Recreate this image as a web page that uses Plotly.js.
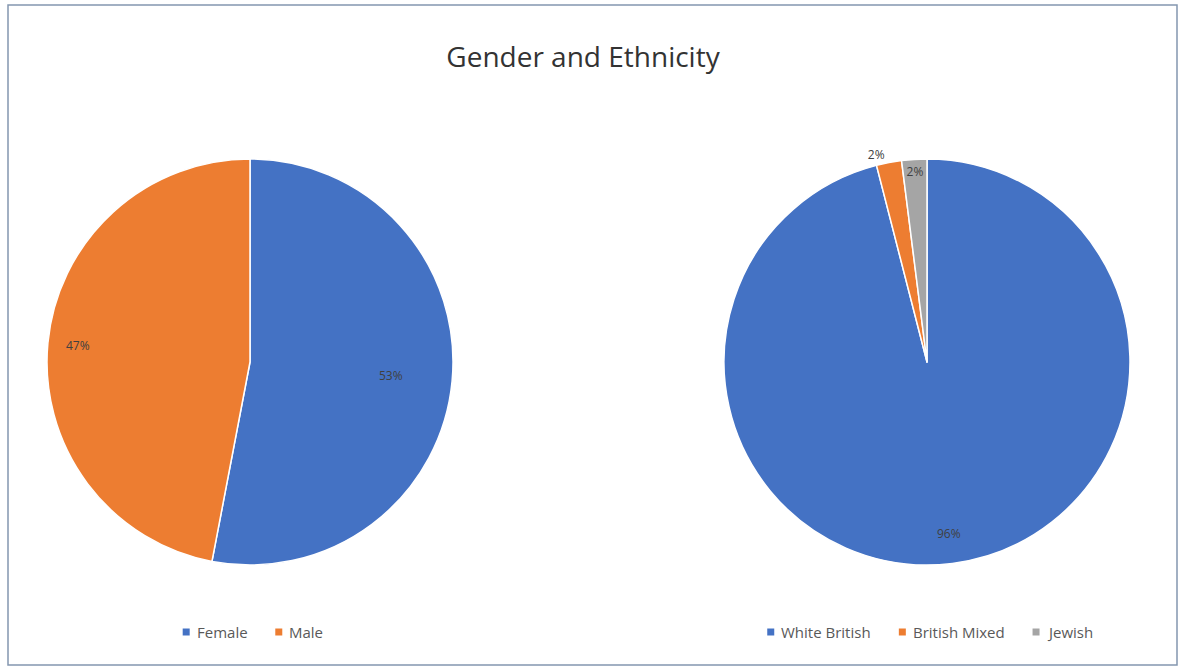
<!DOCTYPE html>
<html>
<head>
<meta charset="utf-8">
<script src="https://cdn.plot.ly/plotly-3.0.1.min.js"></script>
<style>
  html, body { margin: 0; padding: 0; background: #ffffff; }
  #chart { width: 1182px; height: 668px; }
</style>
</head>
<body>
<div id="chart"></div>
<script>
// Gender breakdown (percent)
const genderLabels = ['Female', 'Male'];
const genderValues = [53, 47];
const genderColors = ['#4472C4', '#ED7D31'];

// Ethnicity breakdown (percent)
const ethnicityLabels = ['White British', 'British Mixed', 'Jewish'];
const ethnicityValues = [96, 2, 2];
const ethnicityColors = ['#4472C4', '#ED7D31', '#A5A5A5'];

const W = 1182, H = 668;
const px = v => v / W;
const py = v => 1 - v / H;

const FONT = 'Open Sans, sans-serif';
const labelFont = { family: FONT, size: 12, color: '#404040' };
const legendFont = { family: FONT, size: 15, color: '#595959' };

// Pie geometry (pixels): centre and radius of each pie
const pies = [
  { cx: 250, cy: 362, r: 203 },
  { cx: 927, cy: 362, r: 203 }
];

function domainOf(p) {
  return { x: [px(p.cx - p.r), px(p.cx + p.r)], y: [py(p.cy + p.r), py(p.cy - p.r)] };
}

// Large slices get their labels pushed out toward the rim; small slices
// keep Plotly's own placement.
const genderLabelRadius = [0.70, 0.85];
const ethnicityLabelRadius = [0.85, null, null];

function sliceLabels(values, radii, pie) {
  const total = values.reduce((a, b) => a + b, 0);
  let acc = 0;
  const out = [];
  values.forEach((v, i) => {
    const mid = (acc + v / 2) / total * 2 * Math.PI; // clockwise from 12 o'clock
    acc += v;
    if (radii[i] == null) return;
    const rr = radii[i] * pie.r;
    const x = pie.cx + rr * Math.sin(mid);
    const y = pie.cy - rr * Math.cos(mid);
    out.push({
      text: v + '%', xref: 'paper', yref: 'paper',
      x: px(x), y: py(y), xanchor: 'center', yanchor: 'middle',
      showarrow: false, font: labelFont
    });
  });
  return out;
}

const genderTrace = {
  type: 'pie',
  labels: genderLabels,
  values: genderValues,
  marker: { colors: genderColors, line: { color: '#ffffff', width: 1.5 } },
  sort: false,
  direction: 'clockwise',
  rotation: 0,
  textinfo: 'none',
  hoverinfo: 'label+percent',
  domain: domainOf(pies[0]),
  showlegend: false
};

const ethnicityTrace = {
  type: 'pie',
  labels: ethnicityLabels,
  values: ethnicityValues,
  marker: { colors: ethnicityColors, line: { color: '#ffffff', width: 1.5 } },
  sort: false,
  direction: 'clockwise',
  rotation: 0,
  texttemplate: ethnicityValues.map((v, i) => ethnicityLabelRadius[i] == null ? v + '%' : ''),
  textposition: ['inside', 'outside', 'inside'],
  insidetextorientation: 'horizontal',
  textfont: labelFont,
  outsidetextfont: labelFont,
  hoverinfo: 'label+percent',
  domain: domainOf(pies[1]),
  showlegend: false
};

// Compact legends: small square swatch + label, centred under each pie
const measureCtx = document.createElement('canvas').getContext('2d');
measureCtx.font = legendFont.size + 'px "Open Sans"';
function textWidth(t) { return measureCtx.measureText(t).width; }

function buildLegend(labels, colors, centreX, centreY) {
  const sw = 7, gapText = 5, gapItem = 30;
  const widths = labels.map(textWidth);
  const total = widths.reduce((a, w) => a + sw + gapText + w, 0) + gapItem * (labels.length - 1);
  let x = centreX - total / 2;
  const shapes = [], annos = [];
  labels.forEach((lab, i) => {
    shapes.push({
      type: 'rect', xref: 'paper', yref: 'paper',
      x0: px(x), x1: px(x + sw), y0: py(centreY + sw / 2), y1: py(centreY - sw / 2),
      fillcolor: colors[i], line: { width: 0 }
    });
    x += sw + gapText;
    annos.push({
      text: lab, xref: 'paper', yref: 'paper', x: px(x), y: py(centreY),
      xanchor: 'left', yanchor: 'middle', showarrow: false, font: legendFont
    });
    x += widths[i] + gapItem;
  });
  return { shapes, annos };
}

const legendLeft = buildLegend(genderLabels, genderColors, 252, 632);
const legendRight = buildLegend(ethnicityLabels, ethnicityColors, 928, 632);

const layout = {
  width: W,
  height: H,
  margin: { l: 0, r: 0, t: 0, b: 0 },
  paper_bgcolor: '#ffffff',
  title: {
    text: 'Gender and Ethnicity',
    font: { family: FONT, size: 28, color: '#333333' },
    x: px(583),
    xanchor: 'center',
    y: py(57),
    yanchor: 'middle',
    xref: 'paper',
    yref: 'paper'
  },
  showlegend: false,
  annotations: [
    ...sliceLabels(genderValues, genderLabelRadius, pies[0]),
    ...sliceLabels(ethnicityValues, ethnicityLabelRadius, pies[1]),
    ...legendLeft.annos,
    ...legendRight.annos
  ],
  shapes: [
    {
      type: 'rect', xref: 'paper', yref: 'paper',
      x0: px(8), x1: px(1177), y0: py(665), y1: py(5),
      line: { color: '#8497B0', width: 1.5 },
      fillcolor: 'rgba(0,0,0,0)'
    },
    ...legendLeft.shapes,
    ...legendRight.shapes
  ]
};

document.fonts && document.fonts.load('15px "Open Sans"');
Plotly.newPlot('chart', [genderTrace, ethnicityTrace], layout, { displayModeBar: false, staticPlot: true });
</script>
</body>
</html>
